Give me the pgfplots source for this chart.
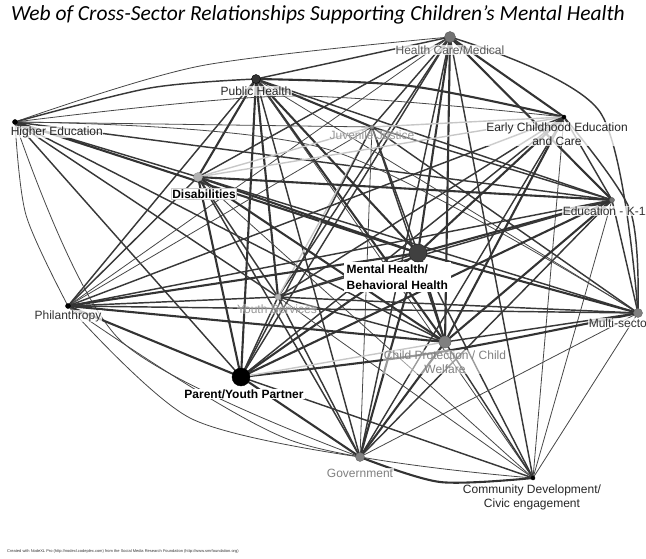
\documentclass[border=0pt]{standalone}
\usepackage{pgfplots}
\pgfplotsset{compat=1.18}
\usepackage{fontspec}
\setmainfont{Liberation Sans}
\newfontfamily\titlefont{Carlito}
\pgfplotsset{
  ET/.style={color=black!80, line width=2.1pt, line cap=round},
  EM/.style={color=black!78, line width=1.45pt, line cap=round},
  EN/.style={color=black!72, line width=0.8pt, line cap=round},
  EL/.style={color=black!22, line width=1.4pt, line cap=round},
}
\tikzset{lab/.style={fill=white, fill opacity=0.75, text opacity=1, inner sep=0.6pt, font=\fontsize{12}{14}\selectfont}}
\begin{document}
\begin{tikzpicture}
\useasboundingbox (0,0) rectangle (646pt,559pt);
\begin{axis}[scale only axis, width=646pt, height=559pt, at={(0,0)}, anchor=south west,
  xmin=0, xmax=646, ymin=0, ymax=559, y dir=reverse, hide axis, clip=false]
% ---- edges: Health Care/Medical
\addplot[EM] coordinates {(450,37) (256,79)};
\addplot[EN, smooth] coordinates {(15,122) (200,66) (450,37)};
\addplot[EM] coordinates {(450,37) (372,127)};
\addplot[ET] coordinates {(450,37) (564,117)};
\addplot[EM] coordinates {(450,37) (198,177)};
\addplot[ET] coordinates {(450,37) (612,200)};
\addplot[ET] coordinates {(450,37) (418,253)};
\addplot[EM] coordinates {(450,37) (278,297)};
\addplot[EN] coordinates {(450,37) (68,306)};
\addplot[EM, smooth] coordinates {(450,37) (600,112) (638,313)};
\addplot[ET] coordinates {(450,37) (445,342)};
\addplot[EM] coordinates {(450,37) (241,377)};
\addplot[EM] coordinates {(450,37) (360,457)};
\addplot[EM] coordinates {(450,37) (533,478)};
% ---- Public Health
\addplot[EM, smooth] coordinates {(15,122) (150,88) (256,79)};
\addplot[ET] coordinates {(256,79) (372,127)};
\addplot[ET, smooth] coordinates {(256,79) (410,86) (564,117)};
\addplot[ET] coordinates {(256,79) (198,177)};
\addplot[EM] coordinates {(256,79) (612,200)};
\addplot[ET] coordinates {(256,79) (418,253)};
\addplot[ET] coordinates {(256,79) (278,297)};
\addplot[EM] coordinates {(256,79) (68,306)};
\addplot[EN] coordinates {(256,79) (638,313)};
\addplot[ET] coordinates {(256,79) (445,342)};
\addplot[ET] coordinates {(256,79) (241,377)};
\addplot[EM] coordinates {(256,79) (360,457)};
\addplot[EN] coordinates {(256,79) (533,478)};
% ---- Higher Education
\addplot[EN] coordinates {(15,122) (372,127)};
\addplot[EN, smooth] coordinates {(15,122) (290,96) (564,117)};
\addplot[EM] coordinates {(15,122) (198,177)};
\addplot[EM] coordinates {(15,122) (612,200)};
\addplot[ET] coordinates {(15,122) (418,253)};
\addplot[EM] coordinates {(15,122) (278,297)};
\addplot[EN, smooth] coordinates {(15,122) (26,215) (68,306)};
\addplot[EN, smooth] coordinates {(15,122) (330,150) (638,313)};
\addplot[EM] coordinates {(15,122) (445,342)};
\addplot[EM] coordinates {(15,122) (241,377)};
\addplot[EN, smooth] coordinates {(15,122) (120,340) (360,457)};
% ---- Juvenile Justice
\addplot[EL] coordinates {(372,127) (564,117)};
\addplot[EL] coordinates {(372,127) (198,177)};
\addplot[EM] coordinates {(372,127) (612,200)};
\addplot[EM] coordinates {(372,127) (418,253)};
\addplot[EL] coordinates {(372,127) (278,297)};
\addplot[EN] coordinates {(372,127) (68,306)};
\addplot[EM] coordinates {(372,127) (638,313)};
\addplot[EM] coordinates {(372,127) (445,342)};
\addplot[EM] coordinates {(372,127) (241,377)};
\addplot[EN] coordinates {(372,127) (360,457)};
% ---- Early Childhood Education and Care
\addplot[EL] coordinates {(564,117) (198,177)};
\addplot[EM] coordinates {(564,117) (612,200)};
\addplot[ET] coordinates {(564,117) (418,253)};
\addplot[EM] coordinates {(564,117) (278,297)};
\addplot[EM] coordinates {(564,117) (68,306)};
\addplot[EM, smooth] coordinates {(564,117) (630,210) (638,313)};
\addplot[ET] coordinates {(564,117) (445,342)};
\addplot[EM] coordinates {(564,117) (241,377)};
\addplot[EM] coordinates {(564,117) (360,457)};
\addplot[EN] coordinates {(564,117) (533,478)};
% ---- Disabilities
\addplot[ET] coordinates {(198,177) (612,200)};
\addplot[ET] coordinates {(198,177) (418,253)};
\addplot[EM] coordinates {(198,177) (278,297)};
\addplot[EM] coordinates {(198,177) (68,306)};
\addplot[EM] coordinates {(198,177) (638,313)};
\addplot[ET] coordinates {(198,177) (445,342)};
\addplot[ET] coordinates {(198,177) (241,377)};
\addplot[EM] coordinates {(198,177) (360,457)};
\addplot[EN] coordinates {(198,177) (533,478)};
% ---- Education - K-12
\addplot[ET] coordinates {(612,200) (418,253)};
\addplot[EM] coordinates {(612,200) (278,297)};
\addplot[EM] coordinates {(612,200) (68,306)};
\addplot[EM] coordinates {(612,200) (638,313)};
\addplot[ET] coordinates {(612,200) (445,342)};
\addplot[ET] coordinates {(612,200) (241,377)};
\addplot[EM] coordinates {(612,200) (360,457)};
\addplot[EN] coordinates {(612,200) (533,478)};
% ---- Mental Health / Behavioral Health
\addplot[EM] coordinates {(418,253) (278,297)};
\addplot[ET] coordinates {(418,253) (68,306)};
\addplot[ET] coordinates {(418,253) (638,313)};
\addplot[ET] coordinates {(418,253) (445,342)};
\addplot[ET] coordinates {(418,253) (241,377)};
\addplot[ET] coordinates {(418,253) (360,457)};
\addplot[EM] coordinates {(418,253) (533,478)};
% ---- Youth Services
\addplot[EM] coordinates {(278,297) (68,306)};
\addplot[EM] coordinates {(278,297) (638,313)};
\addplot[EM] coordinates {(278,297) (445,342)};
\addplot[EM] coordinates {(278,297) (241,377)};
\addplot[EM] coordinates {(278,297) (360,457)};
\addplot[EN] coordinates {(278,297) (533,478)};
% ---- Philanthropy
\addplot[EM] coordinates {(68,306) (638,313)};
\addplot[ET] coordinates {(68,306) (445,342)};
\addplot[ET] coordinates {(68,306) (241,377)};
\addplot[EN, smooth] coordinates {(68,306) (190,418) (360,457)};
\addplot[EN, smooth] coordinates {(68,306) (290,440) (533,478)};
% ---- Multi-sector
\addplot[EM] coordinates {(638,313) (445,342)};
\addplot[ET, smooth] coordinates {(241,377) (440,352) (638,313)};
\addplot[EN] coordinates {(638,313) (360,457)};
\addplot[EN] coordinates {(638,313) (533,478)};
% ---- Child Protection / Child Welfare
\addplot[EL] coordinates {(445,342) (241,377)};
\addplot[ET] coordinates {(445,342) (360,457)};
\addplot[EM] coordinates {(445,342) (533,478)};
% ---- Parent/Youth Partner, Government
\addplot[ET] coordinates {(241,377) (360,457)};
\addplot[EM] coordinates {(241,377) (533,478)};
\addplot[ET, smooth] coordinates {(360,457) (440,482) (533,478)};
% ---- vertices
\addplot[only marks, mark=*, mark size=5.5pt, mark options={fill=black!55, draw=black!65}] coordinates {(450,37)};
\addplot[only marks, mark=*, mark size=4.5pt, mark options={fill=black!80, draw=black}] coordinates {(256,79)};
\addplot[only marks, mark=*, mark size=2.5pt, mark options={fill=black, draw=black}] coordinates {(15,122) (68,306)};
\addplot[only marks, mark=*, mark size=2pt, mark options={fill=black!45, draw=black!55}] coordinates {(372,127)};
\addplot[only marks, mark=*, mark size=2pt, mark options={fill=black, draw=black}] coordinates {(564,117) (533,478)};
\addplot[only marks, mark=*, mark size=4.5pt, mark options={fill=black!30, draw=black!40}] coordinates {(198,177)};
\addplot[only marks, mark=*, mark size=2.5pt, mark options={fill=black!55, draw=black!65}] coordinates {(612,200)};
\addplot[only marks, mark=*, mark size=9pt, mark options={fill=black!75, draw=black!85}] coordinates {(418,253)};
\addplot[only marks, mark=*, mark size=3pt, mark options={fill=black!30, draw=black!40}] coordinates {(278,297)};
\addplot[only marks, mark=*, mark size=4.5pt, mark options={fill=black!50, draw=black!60}] coordinates {(638,313)};
\addplot[only marks, mark=*, mark size=6pt, mark options={fill=black!50, draw=black!60}] coordinates {(445,342)};
\addplot[only marks, mark=*, mark size=9pt, mark options={fill=black, draw=black}] coordinates {(241,377)};
\addplot[only marks, mark=*, mark size=4.5pt, mark options={fill=black!50, draw=black!60}] coordinates {(360,457)};
% ---- labels
\node[lab, text=black!65] at (axis cs:450,50) {Health Care/Medical};
\node[lab, text=black!85] at (axis cs:256,91) {Public Health};
\node[lab, text=black!85, anchor=west] at (axis cs:10,132) {Higher Education};
\node[lab, fill opacity=0.3, text=black!40] at (axis cs:372,135) {Juvenile Justice};
\node[lab, text=black!85, align=center] at (axis cs:557,134) {Early Childhood Education\\and Care};
\node[font=\bfseries\fontsize{12}{13}\selectfont, text=black, fill=white, draw=black!20, inner sep=1pt] at (axis cs:204,194) {Disabilities};
\node[lab, text=black!80, anchor=west] at (axis cs:562,211) {Education - K-12};
\node[font=\bfseries\fontsize{12}{16}\selectfont, text=black, fill=white, align=left, anchor=north west, inner sep=2.5pt] at (axis cs:344,262) {Mental Health/\\Behavioral Health};
\node[lab, fill opacity=0.3, text=black!40] at (axis cs:277,309) {Youth Services};
\node[lab, text=black!80] at (axis cs:68,316) {Philanthropy};
\node[lab, text=black!80, anchor=west] at (axis cs:588,323) {Multi-sector};
\node[lab, fill opacity=0.5, text=black!50, align=center] at (axis cs:445,362) {Child Protection / Child\\Welfare};
\node[font=\bfseries\fontsize{12}{13}\selectfont, text=black, fill=white, inner sep=1pt] at (axis cs:244,394) {Parent/Youth Partner};
\node[lab, text=black!50] at (axis cs:360,473) {Government};
\node[lab, text=black!85, align=center] at (axis cs:532,497) {Community Development/\\Civic engagement};
\node[font=\titlefont\itshape\fontsize{21.5}{24}\selectfont, text=black] at (axis cs:318,15) {Web of Cross-Sector Relationships Supporting Children’s Mental Health};
\node[font=\fontsize{4}{5}\selectfont, text=black!80, anchor=west, inner sep=0pt] at (axis cs:7,551) {Created with NodeXL Pro (http://nodexl.codeplex.com) from the Social Media Research Foundation (http://www.smrfoundation.org)};
\end{axis}
\end{tikzpicture}
\end{document}
